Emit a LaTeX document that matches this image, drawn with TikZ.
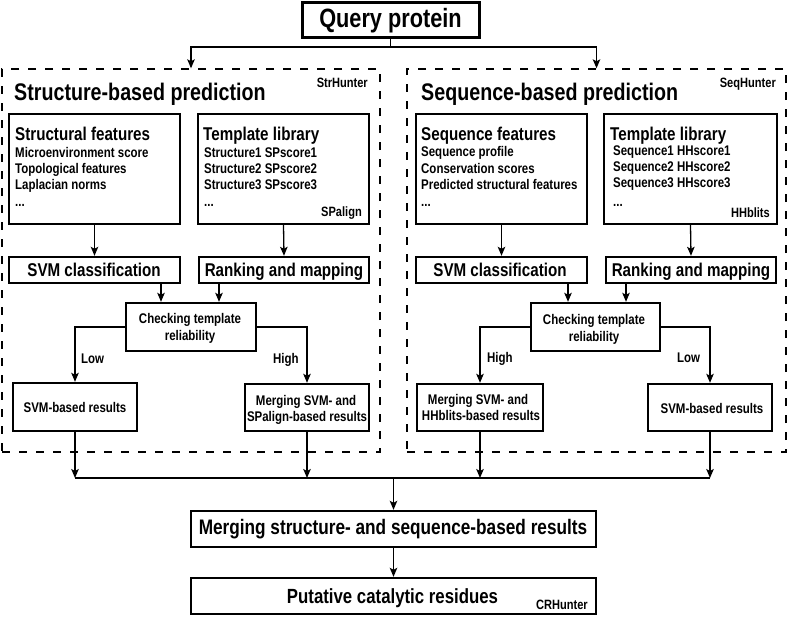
\documentclass[tikz,border=0pt]{standalone}
\usepackage{fontspec}
\setmainfont{Liberation Sans}[FakeStretch=0.82]
\usetikzlibrary{arrows.meta}
\begin{document}
\begin{tikzpicture}[x=1pt,y=-1pt,
  box/.style={draw, line width=2.4pt, inner sep=0pt},
  dbox/.style={draw, line width=1.4pt, dash pattern=on 8pt off 9pt, inner sep=0pt},
  txt/.style={inner sep=0pt, font=\bfseries\fontsize{14}{16}\selectfont},
  big/.style={inner sep=0pt, font=\bfseries\fontsize{18.5}{21}\selectfont},
  huge/.style={inner sep=0pt, font=\bfseries\fontsize{24}{28}\selectfont},
  tiny/.style={inner sep=0pt, font=\bfseries\fontsize{13.5}{15}\selectfont},
  conn/.style={line width=1.3pt},
  arr/.style={line width=1.3pt, -{Stealth[length=9pt,width=7.5pt,inset=2pt]}}
]
\useasboundingbox (0,0) rectangle (787,616);

% boxes
\node[box, line width=3pt, minimum width=177pt, minimum height=35pt] (q) at (390.5,19.5) {};
\node[dbox, minimum width=378pt, minimum height=383pt] (dL) at (191,260.5) {};
\node[dbox, minimum width=379pt, minimum height=383pt] (dR) at (596.5,260.5) {};

\node[box, minimum width=171pt, minimum height=110pt] (sfL) at (94.5,169) {};
\node[box, minimum width=171pt, minimum height=110pt] (tlL) at (283.5,169) {};
\node[box, minimum width=171pt, minimum height=26pt] (svmL) at (94.5,270) {};
\node[box, minimum width=170pt, minimum height=26pt] (rkL) at (284,270) {};
\node[box, minimum width=130pt, minimum height=48pt] (chkL) at (191,327) {};
\node[box, minimum width=124pt, minimum height=48pt] (resL) at (75,407) {};
\node[box, minimum width=124pt, minimum height=47pt] (mrgL) at (307,407.5) {};

\node[box, minimum width=171pt, minimum height=110pt] (sfR) at (501.5,169) {};
\node[box, minimum width=173pt, minimum height=110pt] (tlR) at (690.5,169) {};
\node[box, minimum width=171pt, minimum height=26pt] (svmR) at (501.5,270) {};
\node[box, minimum width=170pt, minimum height=26pt] (rkR) at (691,270) {};
\node[box, minimum width=129pt, minimum height=48pt] (chkR) at (595.5,327) {};
\node[box, minimum width=126pt, minimum height=47pt] (mrgR) at (480,407.5) {};
\node[box, minimum width=124pt, minimum height=47pt] (resR) at (710,407.5) {};

\node[box, minimum width=405pt, minimum height=36pt] (mg) at (393.5,529) {};
\node[box, minimum width=405pt, minimum height=36pt] (pu) at (393.5,596) {};

% texts
\node[inner sep=0pt, font=\bfseries\fontsize{26.5}{30}\selectfont, anchor=base] (tq) at (390.5,27) {Query protein};

\node[huge, anchor=base west] (tL) at (14,100) {Structure-based prediction};
\node[tiny, anchor=base east] (hL) at (368,87) {StrHunter};
\node[big, anchor=base west] (sf0) at (15,140) {Structural features};
\node[txt, anchor=base west] (sf1) at (15,157) {Microenvironment score};
\node[txt, anchor=base west] (sf2) at (15,173) {Topological features};
\node[txt, anchor=base west] (sf3) at (15,189) {Laplacian norms};
\node[txt, anchor=base west] (sf4) at (15,206) {...};
\node[big, anchor=base west] (tl0) at (203,140) {Template library};
\node[txt, anchor=base west] (tl1) at (204,157) {Structure1 SPscore1};
\node[txt, anchor=base west] (tl2) at (204,173) {Structure2 SPscore2};
\node[txt, anchor=base west] (tl3) at (204,189) {Structure3 SPscore3};
\node[txt, anchor=base west] (tl4) at (204,206) {...};
\node[tiny, anchor=base east] (spa) at (362,216) {SPalign};
\node[big, anchor=base] (tsvmL) at (94,276) {SVM classification};
\node[big, anchor=base] (trkL) at (284,276) {Ranking and mapping};
\node[txt, anchor=base] (tchkL1) at (190,323) {Checking template};
\node[txt, anchor=base] (tchkL2) at (190,340) {reliability};
\node[txt, anchor=base west] (lowL) at (81,363) {Low};
\node[txt, anchor=base west] (highL) at (273,363) {High};
\node[txt, anchor=base] (tresL) at (75,412) {SVM-based results};
\node[txt, anchor=base] (tmrgL1) at (306,405) {Merging SVM- and};
\node[txt, anchor=base] (tmrgL2) at (307,421) {SPalign-based results};

\node[huge, anchor=base west] (tR) at (421,100) {Sequence-based prediction};
\node[tiny, anchor=base east] (hR) at (776,87) {SeqHunter};
\node[big, anchor=base west] (sr0) at (421,140) {Sequence features};
\node[txt, anchor=base west] (sr1) at (421,156) {Sequence profile};
\node[txt, anchor=base west] (sr2) at (421,173) {Conservation scores};
\node[txt, anchor=base west] (sr3) at (421,189) {Predicted structural features};
\node[txt, anchor=base west] (sr4) at (421,206) {...};
\node[big, anchor=base west] (tr0) at (610,140) {Template library};
\node[txt, anchor=base west] (tr1) at (613,155) {Sequence1 HHscore1};
\node[txt, anchor=base west] (tr2) at (613,171) {Sequence2 HHscore2};
\node[txt, anchor=base west] (tr3) at (613,187) {Sequence3 HHscore3};
\node[txt, anchor=base west] (tr4) at (613,206) {...};
\node[tiny, anchor=base east] (hhb) at (770,217) {HHblits};
\node[big, anchor=base] (tsvmR) at (500,276) {SVM classification};
\node[big, anchor=base] (trkR) at (691,276) {Ranking and mapping};
\node[txt, anchor=base] (tchkR1) at (594,324) {Checking template};
\node[txt, anchor=base] (tchkR2) at (594,341) {reliability};
\node[txt, anchor=base west] (highR) at (487,362) {High};
\node[txt, anchor=base west] (lowR) at (677,362) {Low};
\node[txt, anchor=base] (tmrgR1) at (478,404) {Merging SVM- and};
\node[txt, anchor=base] (tmrgR2) at (481,420) {HHblits-based results};
\node[txt, anchor=base] (tresR) at (712,413) {SVM-based results};

\node[inner sep=0pt, font=\bfseries\fontsize{21}{24}\selectfont, anchor=base] (tmg) at (393,534) {Merging structure- and sequence-based results};
\node[inner sep=0pt, font=\bfseries\fontsize{20.5}{24}\selectfont, anchor=base] (tpu) at (392.5,603) {Putative catalytic residues};
\node[tiny, anchor=base east] (crh) at (588,609) {CRHunter};

% helper coordinates
\coordinate (top) at (390.5,47);
\coordinate (bot) at (393.5,478);
\coordinate (cA) at (161,0);
\coordinate (cB) at (219,0);
\coordinate (cC) at (568,0);
\coordinate (cD) at (626,0);

% connectors
\draw[conn] (q.south) -- (top);
\draw[arr] (top) -| (dL.north);
\draw[arr] (top) -| (dR.north);

\draw[arr] (sfL.south) -- (svmL.north);
\draw[arr] (tlL.south) -- (rkL.north);
\draw[arr] (svmL.south -| cA) -- (chkL.north -| cA);
\draw[arr] (rkL.south -| cB) -- (chkL.north -| cB);
\draw[arr] (chkL.west) -| (resL.north);
\draw[arr] (chkL.east) -| (mrgL.north);

\draw[arr] (sfR.south) -- (svmR.north);
\draw[arr] (tlR.south) -- (rkR.north);
\draw[arr] (svmR.south -| cC) -- (chkR.north -| cC);
\draw[arr] (rkR.south -| cD) -- (chkR.north -| cD);
\draw[arr] (chkR.west) -| (mrgR.north);
\draw[arr] (chkR.east) -| (resR.north);

\draw[arr] (resL.south) -- (resL.south |- bot);
\draw[arr] (mrgL.south) -- (mrgL.south |- bot);
\draw[arr] (mrgR.south) -- (mrgR.south |- bot);
\draw[arr] (resR.south) -- (resR.south |- bot);
\draw[conn] (resL.south |- bot) -- (resR.south |- bot);
\draw[arr] (bot) -- (mg.north);
\draw[arr] (mg.south) -- (pu.north);
\end{tikzpicture}
\end{document}
